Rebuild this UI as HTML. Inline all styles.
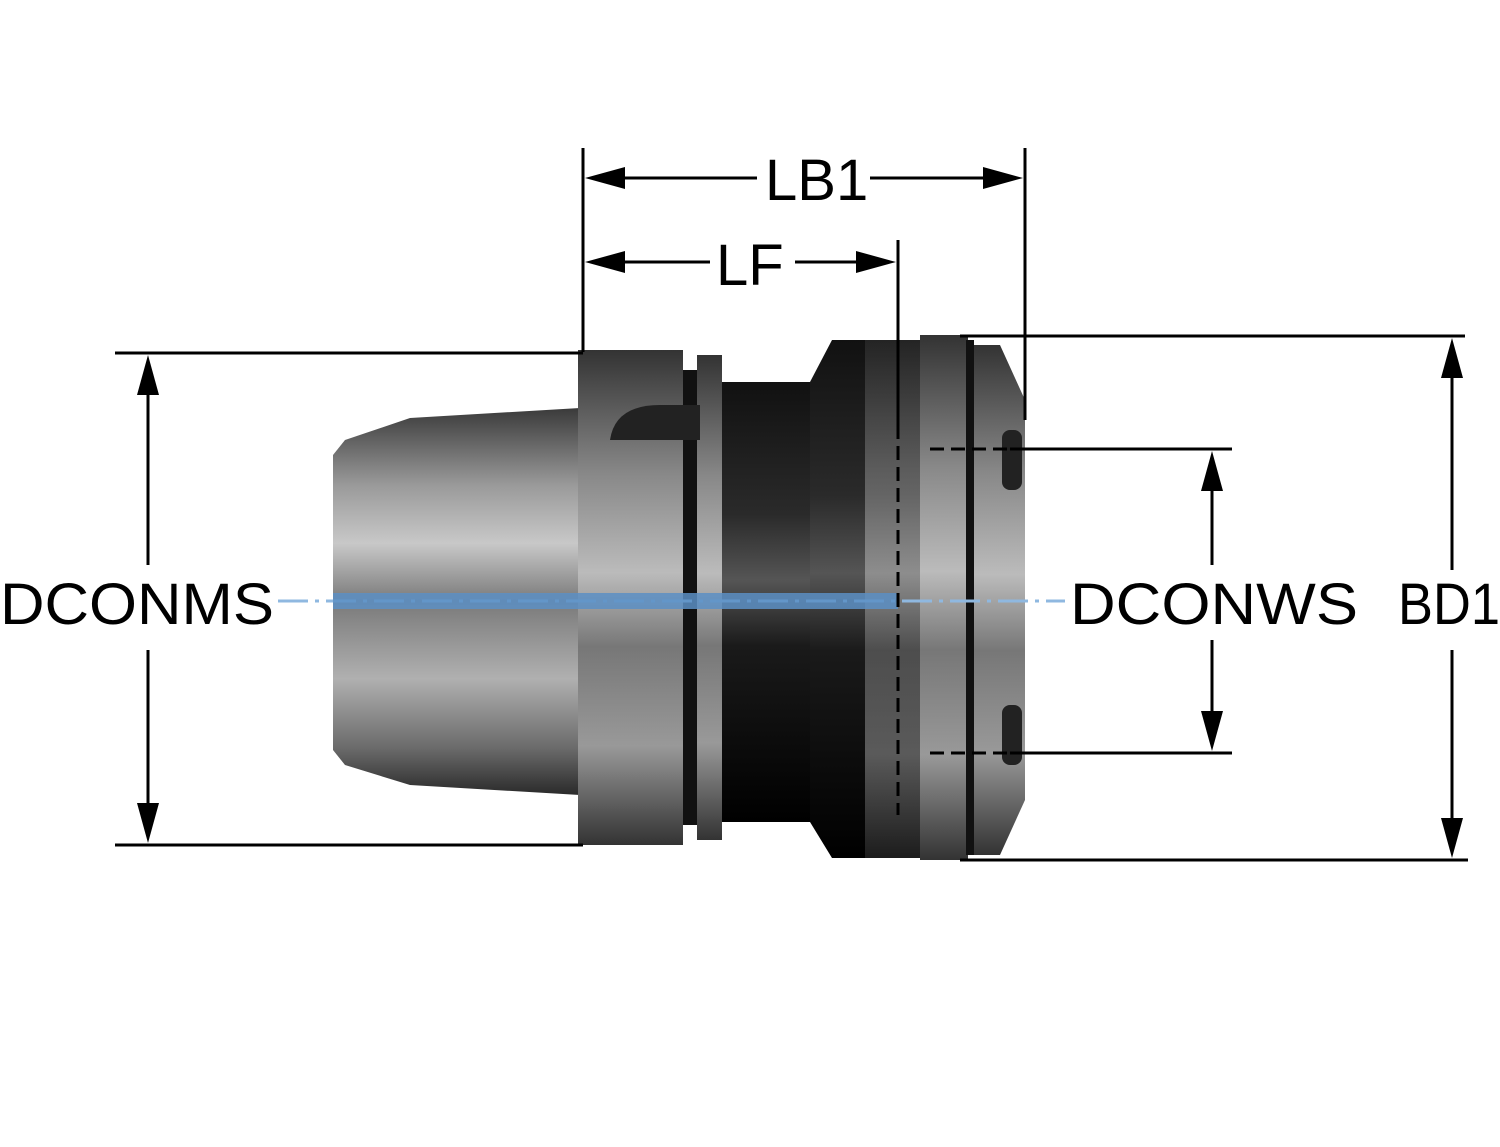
<!DOCTYPE html>
<html><head><meta charset="utf-8"><style>
html,body{margin:0;padding:0;background:#fff}
svg{display:block}
text{font-family:"Liberation Sans",sans-serif;font-size:58px;fill:#000}
</style></head><body>
<svg width="1500" height="1147" viewBox="0 0 1500 1147" xmlns="http://www.w3.org/2000/svg">
<defs>
<linearGradient id="g1" x1="0" y1="0" x2="0" y2="1">
<stop offset="0" stop-color="#3a3a3a"/><stop offset="0.2" stop-color="#9a9a9a"/><stop offset="0.35" stop-color="#c8c8c8"/><stop offset="0.5" stop-color="#7a7a7a"/><stop offset="0.7" stop-color="#b0b0b0"/><stop offset="0.88" stop-color="#6a6a6a"/><stop offset="1" stop-color="#2a2a2a"/>
</linearGradient>
<linearGradient id="g2" x1="0" y1="0" x2="0" y2="1">
<stop offset="0" stop-color="#111"/><stop offset="0.3" stop-color="#2a2a2a"/><stop offset="0.45" stop-color="#555"/><stop offset="0.6" stop-color="#1a1a1a"/><stop offset="1" stop-color="#000"/>
</linearGradient>
<linearGradient id="g3" x1="0" y1="0" x2="0" y2="1">
<stop offset="0" stop-color="#333"/><stop offset="0.25" stop-color="#888"/><stop offset="0.45" stop-color="#bbb"/><stop offset="0.6" stop-color="#777"/><stop offset="0.8" stop-color="#999"/><stop offset="1" stop-color="#333"/>
</linearGradient>
</defs>
<path d="M345,440 L410,418 L580,408 L580,795 L410,785 L345,765 L333,750 L333,455 Z" fill="url(#g1)"/>
<rect x="578" y="350" width="105" height="495" fill="url(#g3)"/>
<rect x="683" y="370" width="14" height="455" fill="#111"/>
<rect x="697" y="355" width="25" height="485" fill="url(#g3)"/>
<path d="M610,440 Q615,405 660,405 L700,405 L700,440 Z" fill="#222"/>
<rect x="722" y="382" width="90" height="440" fill="url(#g2)"/>
<path d="M810,382 L832,340 L920,340 L920,858 L832,858 L810,822 Z" fill="url(#g2)"/>
<rect x="865" y="340" width="55" height="518" fill="url(#g3)" opacity="0.55"/>
<rect x="920" y="335" width="48" height="525" fill="url(#g3)"/>
<rect x="966" y="340" width="8" height="515" fill="#111"/>
<path d="M974,345 L1000,345 L1025,400 L1025,800 L1000,855 L974,855 Z" fill="url(#g3)"/>
<rect x="1002" y="430" width="20" height="60" rx="8" fill="#222"/>
<rect x="1002" y="705" width="20" height="60" rx="8" fill="#222"/>
<line x1="278" y1="601" x2="1065" y2="601" stroke="#8fb8e0" stroke-width="3" stroke-dasharray="30,7,4,7"/>
<rect x="333" y="593" width="565" height="16" fill="#5c8fc4" opacity="0.85"/>
<g stroke="#000" stroke-width="3" fill="none">
<line x1="583" y1="148" x2="583" y2="352"/>
<line x1="1025" y1="148" x2="1025" y2="420"/>
<line x1="898" y1="240" x2="898" y2="425"/>
<line x1="898" y1="425" x2="898" y2="815" stroke-dasharray="14,7"/>
<line x1="620" y1="178" x2="757" y2="178"/>
<line x1="870" y1="178" x2="988" y2="178"/>
<line x1="620" y1="262" x2="710" y2="262"/>
<line x1="795" y1="262" x2="862" y2="262"/>
<line x1="115" y1="353" x2="583" y2="353"/>
<line x1="115" y1="845" x2="583" y2="845"/>
<line x1="148" y1="390" x2="148" y2="565"/>
<line x1="148" y1="650" x2="148" y2="808"/>
<line x1="960" y1="336" x2="1465" y2="336"/>
<line x1="960" y1="860" x2="1468" y2="860"/>
<line x1="1452" y1="372" x2="1452" y2="570"/>
<line x1="1452" y1="650" x2="1452" y2="824"/>
<line x1="930" y1="449" x2="1010" y2="449" stroke-dasharray="14,7"/>
<line x1="930" y1="753" x2="1010" y2="753" stroke-dasharray="14,7"/>
<line x1="1010" y1="449" x2="1232" y2="449"/>
<line x1="1010" y1="753" x2="1232" y2="753"/>
<line x1="1212" y1="485" x2="1212" y2="565"/>
<line x1="1212" y1="640" x2="1212" y2="717"/>
</g>
<g fill="#000">
<path d="M585,178 L625,167 L625,189 Z"/>
<path d="M1023,178 L983,167 L983,189 Z"/>
<path d="M585,262 L625,251 L625,273 Z"/>
<path d="M896,262 L856,251 L856,273 Z"/>
<path d="M148,355 L137,395 L159,395 Z"/>
<path d="M148,843 L137,803 L159,803 Z"/>
<path d="M1452,338 L1441,378 L1463,378 Z"/>
<path d="M1452,858 L1441,818 L1463,818 Z"/>
<path d="M1212,451 L1201,491 L1223,491 Z"/>
<path d="M1212,751 L1201,711 L1223,711 Z"/>
</g>
<text x="765" y="200">LB1</text>
<text x="716" y="285">LF</text>
<text x="0" y="624" textLength="274" lengthAdjust="spacingAndGlyphs">DCONMS</text>
<text x="1070" y="624" textLength="288" lengthAdjust="spacingAndGlyphs">DCONWS</text>
<text x="1398" y="624" textLength="102" lengthAdjust="spacingAndGlyphs">BD1</text>
</svg>
</body></html>
